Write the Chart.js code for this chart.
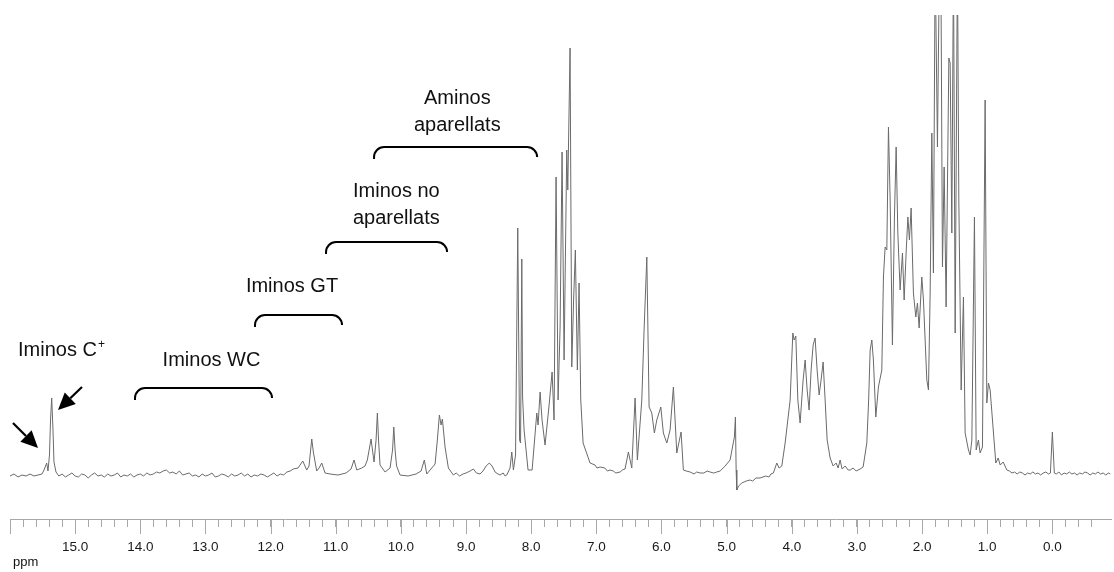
<!DOCTYPE html>
<html><head><meta charset="utf-8">
<script src="https://cdn.jsdelivr.net/npm/chart.js@4.4.0/dist/chart.umd.min.js"></script>
<style>html,body{margin:0;padding:0;background:#fff}#wrap{width:1114px;height:572px}</style>
</head><body><div id="wrap"><canvas id="c" width="1114" height="572"></canvas></div>
<script>
// ---- spectrum data (chemical shift in ppm, intensity in arbitrary units) ----
const ppmA = [16.000,15.939,15.877,15.816,15.754,15.693,15.632,15.570,15.509,15.478,15.437,15.417,15.394,15.378,15.360,15.340,15.325,15.294,
  15.25,15.20,15.15,15.10,15.05,15.00,14.95,14.90,14.85,14.80,14.75,14.70,14.65,14.60,14.55,14.50,14.45,14.40,14.35,14.30,14.25,14.20,14.15,14.10,14.05,14.00,13.95,13.90,13.85,13.80,13.75,13.70,13.65,13.60,13.55,13.50,13.45,13.40,13.35,13.30,13.25,13.20,13.15,13.10,13.05,13.00,12.95,12.90,12.85,12.80,12.75,12.70,12.65,12.60,12.55,12.50,12.45,12.40,12.35,12.30,12.25,12.20,12.15,12.10,12.05,12.00,11.95,11.90,11.85,11.80,11.75,11.70,11.65];
const intA = [0,2,-1,1,0,2,0,1,2,6,13,5,21,56,78,46,14,4,
  0,2,-1,1,3,0,-1,2,1,-2,1,3,0,1,-1,2,0,1,3,-1,1,0,2,-1,1,2,0,3,1,2,4,3,5,6,3,4,2,5,1,2,3,0,1,-1,2,0,1,3,-1,0,2,1,-1,2,0,1,3,0,2,-1,1,0,2,1,-1,1,3,0,2,1,4,5,7];

const ppmB = [11.579,11.506,11.445,11.410,11.368,11.344,11.292,11.256,11.215,11.164,11.087,10.965,10.842,10.765,10.719,10.677,10.601,10.550,10.515,10.458,10.412,10.381,10.361,10.343,10.320,10.243,10.166,10.128,10.109,10.089,10.066,10.013,9.890,9.767,9.690,9.640,9.603,9.526,9.475,9.440,9.409,9.383,9.363,9.322,9.271,9.194,9.15,9.10,9.046,9.00,8.938,8.887,8.84,8.785,8.74,8.692,8.642,8.600,8.554,8.51,8.478,8.43,8.40,8.375,8.324,8.298,8.273];
const intB = [8,15,6,10,37,24,5,8,13,3,2,1,3,7,16,6,8,10,16,37,14,36,63,36,11,4,8,26,49,26,10,1,0,2,5,16,2,8,12,36,61,51,57,29,8,1,3,0,2,3,5,7,3,2,5,10,13,10,4,2,1,3,0,1,8,24,6];

const ppmC = [8.240,8.206,8.178,8.163,8.144,8.132,8.109,8.048,7.986,7.948,7.914,7.894,7.863,7.833,7.787,7.725,7.679,7.649,7.618,7.587,7.556,7.526,7.495,7.454,7.438,7.403,7.377,7.349,7.322,7.291,7.265,7.239,7.203,7.096,7.02,6.99,6.942,6.87,6.83,6.789,6.74,6.70,6.635,6.60,6.559,6.508,6.456,6.405,6.370,6.302,6.267,6.225,6.190,6.149,6.109,6.072,6.010,5.971,5.918,5.868,5.817,5.765,5.699,5.664,5.62,5.561,5.50,5.46,5.407,5.35,5.30,5.254,5.20,5.151,5.10];
const intC = [21,248,36,33,217,79,46,6,6,36,63,51,84,56,31,71,104,56,299,76,149,324,116,326,286,428,109,176,226,106,193,76,33,13,11,8,9,8,5,6,5,3,4,6,7,24,8,78,16,76,146,219,69,63,43,56,69,43,33,46,89,23,44,6,5,4,2,4,3,3,5,4,3,4,5];

const ppmD = [5.023,4.947,4.881,4.865,4.854,4.844,4.816,4.767,4.70,4.640,4.60,4.55,4.486,4.40,4.35,4.32,4.282,4.230,4.194,4.153,4.102,4.025,3.984,3.964,3.938,3.907,3.872,3.826,3.795,3.764,3.734,3.703,3.672,3.642,3.611,3.580,3.550,3.519,3.488,3.457,3.411,3.365,3.319,3.289,3.258,3.227,3.181,3.135,3.104,3.058,3.012,2.951,2.905];
const intD = [10,16,39,59,6,-14,-10,-7,-5,-4,-5,-2,-2,0,-1,2,3,13,8,10,33,76,143,136,140,76,53,96,116,86,66,106,131,138,106,81,96,114,76,36,18,10,13,8,16,7,10,6,6,8,5,7,9];

const ppmE = [2.848,2.820,2.797,2.771,2.747,2.710,2.670,2.618,2.593,2.567,2.541,2.516,2.490,2.455,2.424,2.398,2.372,2.337,2.301,2.275,2.245,2.218,2.194,2.168,2.133,2.096,2.071,2.045,2.004,1.979,1.927,1.902,1.876,1.850,1.826,1.799,1.764,1.733,1.712,1.687,1.661,1.631,1.589,1.569,1.543,1.518,1.492,1.457,1.436,1.400,1.365,1.339,1.288,1.262,1.236,1.196,1.170,1.135,1.109,1.073,1.032,1.006,0.981,0.955,0.904,0.868,0.832,0.801,0.755,0.699,
  0.66,0.62,0.58,0.54,0.50,0.46,0.42,0.38,0.34,0.30,0.26,0.22,0.18,0.14,0.10,0.06,0.03,0.00,-0.03,-0.06,-0.10,-0.14,-0.18,-0.22,-0.26,-0.30,-0.34,-0.38,-0.42,-0.46,-0.50,-0.54,-0.58,-0.62,-0.66,-0.70,-0.74,-0.78,-0.82,-0.86,-0.89];
const intE = [33,76,126,136,116,59,89,106,199,229,226,349,276,131,259,329,243,186,223,176,223,259,236,268,183,159,173,148,199,176,96,86,183,343,203,520,329,520,520,209,309,169,418,413,243,520,143,520,276,86,179,43,26,21,36,259,26,36,23,29,376,73,93,86,43,13,18,11,14,6,
  5,3,4,2,4,3,1,3,2,4,2,3,1,3,4,2,3,44,3,2,4,1,3,2,4,2,3,1,3,2,4,3,1,3,2,4,2,3,1,3,2];

// ---- axis ----
const axisMin = -0.9, axisMax = 16.0, minorStep = 0.2;
const labelFirst = 15, labelLast = 0;
const axisUnit = 'ppm';

// ---- annotations (ppm, intensity) ----
const textLabels = [
  {lines:['Iminos WC'], ppm:12.907, base:110},
  {lines:['Iminos GT'], ppm:11.671, base:184},
  {lines:['Iminos no','aparellats'], ppm:10.07, base:279},
  {lines:['Aminos','aparellats'], ppm:9.134, base:372}
];
const cPlusLabel = {text:'Iminos C', sup:'+', ppm:15.877, base:120};
const brackets = [
  {from:14.081, to:11.978, level:88},
  {from:12.239, to:10.903, level:161},
  {from:11.149, to:9.291, level:234},
  {from:10.412, to:7.909, level:329}
];
const arrows = [
  {fromPpm:15.954, fromInt:53, toPpm:15.570, toInt:28},
  {fromPpm:14.895, fromInt:89, toPpm:15.263, toInt:66}
];

const ppm = [...ppmA, ...ppmB, ...ppmC, ...ppmD, ...ppmE];
const inten = [...intA, ...intB, ...intC, ...intD, ...intE];
const points = ppm.map((p, i) => ({x: p, y: inten[i]}));

const FONT = '"Liberation Sans", Arial, sans-serif';
const isMultiple = (v, s) => Math.abs(v / s - Math.round(v / s)) < 1e-6;

const overlay = {
  id: 'overlay',
  afterDraw(chart) {
    const {ctx, scales: {x, y}, chartArea} = chart;
    ctx.save();
    // major ticks
    ctx.strokeStyle = '#a8a8a8';
    ctx.lineWidth = 1;
    for (const t of x.ticks) {
      if (isMultiple(t.value, 1)) {
        const px = Math.round(x.getPixelForValue(t.value)) + 0.5;
        ctx.beginPath();
        ctx.moveTo(px, chartArea.bottom);
        ctx.lineTo(px, chartArea.bottom + 15);
        ctx.stroke();
      }
    }
    ctx.fillStyle = '#111';
    ctx.textBaseline = 'alphabetic';
    // axis unit
    ctx.textAlign = 'left';
    ctx.font = '13px ' + FONT;
    ctx.fillText(axisUnit, x.left + 3, chartArea.bottom + 47);
    ctx.font = '20px ' + FONT;
    // C+ label
    const cx = x.getPixelForValue(cPlusLabel.ppm), cy = y.getPixelForValue(cPlusLabel.base);
    ctx.fillText(cPlusLabel.text, cx, cy);
    const w = ctx.measureText(cPlusLabel.text).width;
    ctx.font = '12px ' + FONT;
    ctx.fillText(cPlusLabel.sup, cx + w + 1, cy - 8);
    // other labels
    ctx.font = '20px ' + FONT;
    ctx.textAlign = 'center';
    for (const l of textLabels) {
      const lx = x.getPixelForValue(l.ppm);
      const by = y.getPixelForValue(l.base);
      l.lines.forEach((s, i) => ctx.fillText(s, lx, by + i * 27));
    }
    // brackets
    ctx.strokeStyle = '#000';
    ctx.lineWidth = 2;
    const drop = 12, r = 10;
    for (const b of brackets) {
      const x1 = x.getPixelForValue(b.from), x2 = x.getPixelForValue(b.to);
      const yt = y.getPixelForValue(b.level);
      ctx.beginPath();
      ctx.moveTo(x1, yt + drop);
      ctx.arcTo(x1, yt, x1 + r, yt, r);
      ctx.lineTo(x2 - r, yt);
      ctx.arcTo(x2, yt, x2, yt + drop, r);
      ctx.stroke();
    }
    // arrows
    ctx.fillStyle = '#000';
    for (const a of arrows) {
      const x0 = x.getPixelForValue(a.fromPpm), y0 = y.getPixelForValue(a.fromInt);
      const x1 = x.getPixelForValue(a.toPpm), y1 = y.getPixelForValue(a.toInt);
      const ang = Math.atan2(y1 - y0, x1 - x0);
      const hl = 17, hw = 8;
      const bx = x1 - hl * Math.cos(ang), by = y1 - hl * Math.sin(ang);
      ctx.lineWidth = 2.2;
      ctx.beginPath(); ctx.moveTo(x0, y0); ctx.lineTo(bx, by); ctx.stroke();
      ctx.beginPath();
      ctx.moveTo(x1, y1);
      ctx.lineTo(bx + hw * Math.sin(ang), by - hw * Math.cos(ang));
      ctx.lineTo(bx - hw * Math.sin(ang), by + hw * Math.cos(ang));
      ctx.closePath(); ctx.fill();
    }
    ctx.restore();
  }
};

new Chart(document.getElementById('c'), {
  type: 'line',
  data: {datasets: [{
    data: points, borderColor: '#6a6a6a', borderWidth: 1, pointRadius: 0, tension: 0, fill: false
  }]},
  options: {
    responsive: false, animation: false,
    layout: {padding: {left: 10, right: 3, top: 15, bottom: 0}},
    plugins: {legend: {display: false}, tooltip: {enabled: false}},
    scales: {
      x: {
        type: 'linear', reverse: true, min: axisMin, max: axisMax,
        afterFit(s) { s.height = 53; s.paddingLeft = 0; s.paddingRight = 0; },
        border: {display: true, color: '#a8a8a8', width: 1},
        grid: {drawOnChartArea: false, drawTicks: true, tickLength: 8, tickWidth: 1,
               tickColor: c => (c.tick && isMultiple(c.tick.value, minorStep)) ? '#a8a8a8' : 'rgba(0,0,0,0)'},
        ticks: {
          stepSize: minorStep, autoSkip: false, maxRotation: 0, minRotation: 0, padding: 12,
          color: '#1a1a1a', font: {family: FONT, size: 13.5},
          callback: v => (isMultiple(v, 1) && v <= labelFirst && v >= labelLast) ? Math.round(v).toFixed(1) : ''
        }
      },
      y: {display: false, min: -43, max: 461}
    }
  },
  plugins: [overlay]
});
</script>
</body></html>
